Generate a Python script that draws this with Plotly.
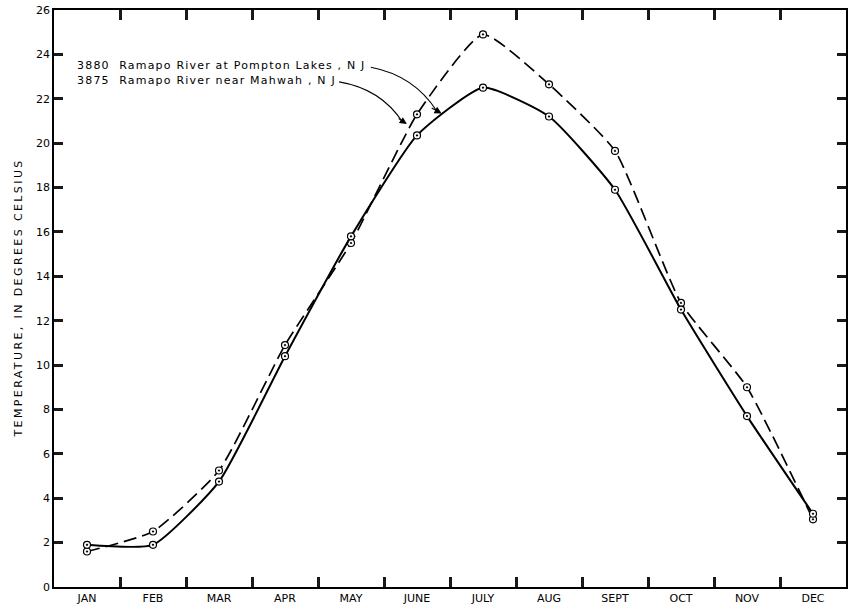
import plotly.graph_objects as go

months = ["JAN", "FEB", "MAR", "APR", "MAY", "JUNE", "JULY", "AUG", "SEPT", "OCT", "NOV", "DEC"]
mahwah_3875 = [1.9, 1.9, 4.75, 10.4, 15.8, 20.35, 22.5, 21.2, 17.9, 12.5, 7.7, 3.3]
pompton_3880 = [1.6, 2.5, 5.25, 10.9, 15.5, 21.3, 24.9, 22.65, 19.65, 12.8, 9.0, 3.05]
y_ticks = list(range(0, 27, 2))

label_3880 = "3880  Ramapo River at Pompton Lakes , N J"
label_3875 = "3875  Ramapo River near Mahwah , N J"
y_title = "TEMPERATURE, IN DEGREES CELSIUS"

FONT = "DejaVu Sans"
idx = list(range(len(months)))
bounds = [i + 0.5 for i in idx[:-1]]
TICK = "rgb(25,25,25)"

def spaced(t, px):
    return '<span style="letter-spacing:%spx">%s</span>' % (px, t)

fig = go.Figure()
marker = dict(symbol="circle-dot", size=7, color="white", line=dict(color="black", width=1.2))
fig.add_trace(go.Scatter(x=idx, y=pompton_3880, mode="lines+markers",
                         line=dict(color="black", width=1.7, dash="13px,6px", shape="spline", smoothing=0.5),
                         marker=marker, name="3880", showlegend=False))
fig.add_trace(go.Scatter(x=idx, y=mahwah_3875, mode="lines+markers",
                         line=dict(color="black", width=2, shape="spline", smoothing=0.5),
                         marker=marker, name="3875", showlegend=False))

# label texts
fig.add_annotation(x=-0.18, y=23.48, xref="x", yref="y", text=spaced(label_3880, 1.2), showarrow=False,
                   xanchor="left", yanchor="middle", font=dict(family=FONT, size=11, color="black"))
fig.add_annotation(x=-0.18, y=22.84, xref="x", yref="y", text=spaced(label_3875, 1.2), showarrow=False,
                   xanchor="left", yanchor="middle", font=dict(family=FONT, size=11, color="black"))

# curved leaders
fig.add_shape(type="path", xref="x", yref="y",
              path="M 4.30,23.42 Q 4.95,23.05 5.30,21.45", line=dict(color="black", width=1.1))
fig.add_shape(type="path", xref="x", yref="y",
              path="M 3.82,22.76 Q 4.45,22.45 4.78,20.95", line=dict(color="black", width=1.1))
# arrow heads
fig.add_annotation(x=5.374, y=21.34, ax=5.20, ay=21.62, xref="x", yref="y", axref="x", ayref="y",
                   text="", showarrow=True, arrowhead=2, arrowsize=1.3, arrowwidth=1.1, arrowcolor="black")
fig.add_annotation(x=4.846, y=20.86, ax=4.70, ay=21.15, xref="x", yref="y", axref="x", ayref="y",
                   text="", showarrow=True, arrowhead=2, arrowsize=1.3, arrowwidth=1.1, arrowcolor="black")

# y axis title
fig.add_annotation(x=(18 - 54) / 794, y=0.5, xref="paper", yref="paper", text=spaced(y_title, 2.4),
                   showarrow=False, xanchor="center", yanchor="middle",
                   textangle=-90, font=dict(family=FONT, size=11, color="black"))

fig.update_layout(
    width=849, height=606,
    margin=dict(l=54, r=1, t=10, b=19),
    paper_bgcolor="white", plot_bgcolor="white",
    font=dict(family=FONT, size=11, color="black"),
    xaxis=dict(range=[-0.5, 11.5], tickmode="array", tickvals=idx, ticktext=months, ticks="",
               minor=dict(tickmode="array", tickvals=bounds, ticks="inside", ticklen=10, tickwidth=2.5,
                          tickcolor=TICK, showgrid=False),
               showgrid=False, showline=True, linecolor="black", linewidth=1.6, mirror="allticks",
               zeroline=False, tickfont=dict(family=FONT, size=11)),
    yaxis=dict(range=[0, 26], tickmode="array", tickvals=y_ticks, ticks="inside", ticklen=9, tickwidth=2.5,
               tickcolor=TICK,
               showgrid=False, showline=True, linecolor="black", linewidth=1.6, mirror="allticks",
               zeroline=False, tickfont=dict(family=FONT, size=11)),
)
fig.write_html("out.html")
